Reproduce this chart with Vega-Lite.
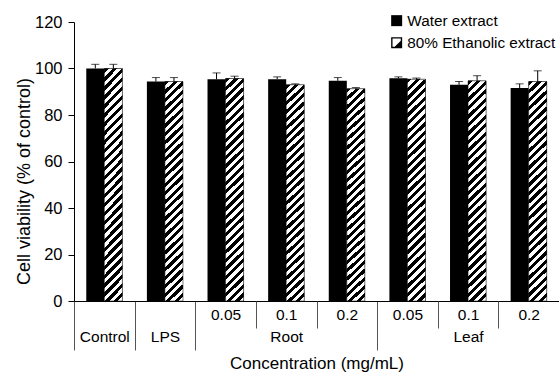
{
  "$schema": "https://vega.github.io/schema/vega-lite/v6.json",
  "width": 485,
  "height": 279,
  "autosize": {"type": "none"},
  "padding": {"left": 74, "top": 22, "right": 0, "bottom": 73},
  "background": "white",
  "config": {
    "view": {"stroke": null},
    "font": "Liberation Sans",
    "axis": {"grid": false, "labelColor": "#000", "titleColor": "#000", "titleFontWeight": "normal"},
    "axisY": {
      "values": [0, 20, 40, 60, 80, 100, 120],
      "tickSize": 6,
      "tickColor": "#000",
      "domainColor": "#000",
      "labelPadding": 6,
      "labelFontSize": 16.5,
      "titleFontSize": 18,
      "titlePadding": 1,
      "titleY": 159
    }
  },
  "data": {
    "values": [
      {"cat": "Control", "extract": "Water extract", "mean": 100, "upper": 101.8},
      {"cat": "Control", "extract": "80% Ethanolic extract", "mean": 100, "upper": 101.8},
      {"cat": "LPS", "extract": "Water extract", "mean": 94.4, "upper": 96.1},
      {"cat": "LPS", "extract": "80% Ethanolic extract", "mean": 94.4, "upper": 96.1},
      {"cat": "Root 0.05", "extract": "Water extract", "mean": 95.4, "upper": 98.1},
      {"cat": "Root 0.05", "extract": "80% Ethanolic extract", "mean": 95.7, "upper": 96.7},
      {"cat": "Root 0.1", "extract": "Water extract", "mean": 95.4, "upper": 96.4},
      {"cat": "Root 0.1", "extract": "80% Ethanolic extract", "mean": 93.0, "upper": 93.4},
      {"cat": "Root 0.2", "extract": "Water extract", "mean": 94.7, "upper": 96.1},
      {"cat": "Root 0.2", "extract": "80% Ethanolic extract", "mean": 91.3, "upper": 91.8},
      {"cat": "Leaf 0.05", "extract": "Water extract", "mean": 95.8, "upper": 96.4},
      {"cat": "Leaf 0.05", "extract": "80% Ethanolic extract", "mean": 95.4, "upper": 95.9},
      {"cat": "Leaf 0.1", "extract": "Water extract", "mean": 93.0, "upper": 94.4},
      {"cat": "Leaf 0.1", "extract": "80% Ethanolic extract", "mean": 94.7, "upper": 96.9},
      {"cat": "Leaf 0.2", "extract": "Water extract", "mean": 91.6, "upper": 93.4},
      {"cat": "Leaf 0.2", "extract": "80% Ethanolic extract", "mean": 94.4, "upper": 99.0}
    ]
  },
  "resolve": {"scale": {"x": "shared", "y": "shared"}, "axis": {"x": "independent", "y": "shared"}},
  "layer": [
    {
      "mark": {"type": "bar"},
      "encoding": {
        "x": {
          "field": "cat", "type": "nominal", "sort": null,
          "scale": {"domain": ["Control", "LPS", "Root 0.05", "Root 0.1", "Root 0.2", "Leaf 0.05", "Leaf 0.1", "Leaf 0.2"], "paddingInner": 0, "paddingOuter": 0},
          "axis": {
            "orient": "bottom",
            "tickBand": "extent",
            "tickSize": 49,
            "tickColor": "#555",
            "tickOpacity": {"condition": {"test": "!datum.value || datum.value == 'Control' || datum.value == 'LPS' || datum.value == 'Root 0.2'", "value": 1}, "value": 0},
            "labelExpr": "datum.value == 'Root 0.1' ? 'Root' : datum.value == 'Leaf 0.1' ? 'Leaf' : (datum.value == 'Control' || datum.value == 'LPS') ? datum.value : ''",
            "labelPadding": -21,
            "labelFontSize": 15.5,
            "labelAngle": 0,
            "domainColor": "#000",
            "title": "Concentration (mg/mL)",
            "titleFontSize": 17,
            "titlePadding": 5
          }
        },
        "xOffset": {"field": "extract", "type": "nominal", "scale": {"domain": ["Water extract", "80% Ethanolic extract"], "paddingInner": 0, "paddingOuter": 0.68}},
        "y": {
          "field": "mean", "type": "quantitative", "stack": null,
          "scale": {"domain": [0, 120], "nice": false},
          "title": "Cell viability (% of control)"
        },
        "fill": {
          "field": "extract", "type": "nominal",
          "scale": {"domain": ["Water extract", "80% Ethanolic extract"], "range": ["#000", "#000"]},
          "legend": {
            "title": null,
            "orient": "none",
            "legendX": 315,
            "legendY": -9,
            "padding": 0,
            "labelFontSize": 15.3,
            "labelColor": "#000",
            "labelOffset": 3,
            "symbolSize": 121,
            "rowPadding": 6,
            "encode": {
              "symbols": {
                "update": {
                  "shape": {"signal": "datum.value == 'Water extract' ? 'square' : 'M-1,-1H1V1H-1Z M-0.75,-0.75V0.75H0.75V-0.75Z M0.75,-0.35V0.75H-0.35Z'"},
                  "fill": {"value": "#000"},
                  "strokeWidth": {"value": 0}
                }
              }
            }
          }
        }
      }
    },
    {
      "transform": [{"filter": "datum.extract == '80% Ethanolic extract'"}],
      "mark": {
        "type": "bar",
        "stroke": "#000",
        "strokeWidth": 0.5,
        "fill": {
          "gradient": "linear", "x1": 0, "y1": 0, "x2": 0.0859, "y2": 1.073,
          "stops": [
            {"offset": 0, "color": "#000"},
            {"offset": 0.0179, "color": "#000"}, {"offset": 0.0179, "color": "#fff"},
            {"offset": 0.0357, "color": "#fff"}, {"offset": 0.0357, "color": "#000"},
            {"offset": 0.0536, "color": "#000"}, {"offset": 0.0536, "color": "#fff"},
            {"offset": 0.0714, "color": "#fff"}, {"offset": 0.0714, "color": "#000"},
            {"offset": 0.0893, "color": "#000"}, {"offset": 0.0893, "color": "#fff"},
            {"offset": 0.1071, "color": "#fff"}, {"offset": 0.1071, "color": "#000"},
            {"offset": 0.125, "color": "#000"}, {"offset": 0.125, "color": "#fff"},
            {"offset": 0.1429, "color": "#fff"}, {"offset": 0.1429, "color": "#000"},
            {"offset": 0.1607, "color": "#000"}, {"offset": 0.1607, "color": "#fff"},
            {"offset": 0.1786, "color": "#fff"}, {"offset": 0.1786, "color": "#000"},
            {"offset": 0.1964, "color": "#000"}, {"offset": 0.1964, "color": "#fff"},
            {"offset": 0.2143, "color": "#fff"}, {"offset": 0.2143, "color": "#000"},
            {"offset": 0.2321, "color": "#000"}, {"offset": 0.2321, "color": "#fff"},
            {"offset": 0.25, "color": "#fff"}, {"offset": 0.25, "color": "#000"},
            {"offset": 0.2679, "color": "#000"}, {"offset": 0.2679, "color": "#fff"},
            {"offset": 0.2857, "color": "#fff"}, {"offset": 0.2857, "color": "#000"},
            {"offset": 0.3036, "color": "#000"}, {"offset": 0.3036, "color": "#fff"},
            {"offset": 0.3214, "color": "#fff"}, {"offset": 0.3214, "color": "#000"},
            {"offset": 0.3393, "color": "#000"}, {"offset": 0.3393, "color": "#fff"},
            {"offset": 0.3571, "color": "#fff"}, {"offset": 0.3571, "color": "#000"},
            {"offset": 0.375, "color": "#000"}, {"offset": 0.375, "color": "#fff"},
            {"offset": 0.3929, "color": "#fff"}, {"offset": 0.3929, "color": "#000"},
            {"offset": 0.4107, "color": "#000"}, {"offset": 0.4107, "color": "#fff"},
            {"offset": 0.4286, "color": "#fff"}, {"offset": 0.4286, "color": "#000"},
            {"offset": 0.4464, "color": "#000"}, {"offset": 0.4464, "color": "#fff"},
            {"offset": 0.4643, "color": "#fff"}, {"offset": 0.4643, "color": "#000"},
            {"offset": 0.4821, "color": "#000"}, {"offset": 0.4821, "color": "#fff"},
            {"offset": 0.5, "color": "#fff"}, {"offset": 0.5, "color": "#000"},
            {"offset": 0.5179, "color": "#000"}, {"offset": 0.5179, "color": "#fff"},
            {"offset": 0.5357, "color": "#fff"}, {"offset": 0.5357, "color": "#000"},
            {"offset": 0.5536, "color": "#000"}, {"offset": 0.5536, "color": "#fff"},
            {"offset": 0.5714, "color": "#fff"}, {"offset": 0.5714, "color": "#000"},
            {"offset": 0.5893, "color": "#000"}, {"offset": 0.5893, "color": "#fff"},
            {"offset": 0.6071, "color": "#fff"}, {"offset": 0.6071, "color": "#000"},
            {"offset": 0.625, "color": "#000"}, {"offset": 0.625, "color": "#fff"},
            {"offset": 0.6429, "color": "#fff"}, {"offset": 0.6429, "color": "#000"},
            {"offset": 0.6607, "color": "#000"}, {"offset": 0.6607, "color": "#fff"},
            {"offset": 0.6786, "color": "#fff"}, {"offset": 0.6786, "color": "#000"},
            {"offset": 0.6964, "color": "#000"}, {"offset": 0.6964, "color": "#fff"},
            {"offset": 0.7143, "color": "#fff"}, {"offset": 0.7143, "color": "#000"},
            {"offset": 0.7321, "color": "#000"}, {"offset": 0.7321, "color": "#fff"},
            {"offset": 0.75, "color": "#fff"}, {"offset": 0.75, "color": "#000"},
            {"offset": 0.7679, "color": "#000"}, {"offset": 0.7679, "color": "#fff"},
            {"offset": 0.7857, "color": "#fff"}, {"offset": 0.7857, "color": "#000"},
            {"offset": 0.8036, "color": "#000"}, {"offset": 0.8036, "color": "#fff"},
            {"offset": 0.8214, "color": "#fff"}, {"offset": 0.8214, "color": "#000"},
            {"offset": 0.8393, "color": "#000"}, {"offset": 0.8393, "color": "#fff"},
            {"offset": 0.8571, "color": "#fff"}, {"offset": 0.8571, "color": "#000"},
            {"offset": 0.875, "color": "#000"}, {"offset": 0.875, "color": "#fff"},
            {"offset": 0.8929, "color": "#fff"}, {"offset": 0.8929, "color": "#000"},
            {"offset": 0.9107, "color": "#000"}, {"offset": 0.9107, "color": "#fff"},
            {"offset": 0.9286, "color": "#fff"}, {"offset": 0.9286, "color": "#000"},
            {"offset": 0.9464, "color": "#000"}, {"offset": 0.9464, "color": "#fff"},
            {"offset": 0.9643, "color": "#fff"}, {"offset": 0.9643, "color": "#000"},
            {"offset": 0.9821, "color": "#000"}, {"offset": 0.9821, "color": "#fff"},
            {"offset": 1, "color": "#fff"}
          ]
        }
      },
      "encoding": {
        "x": {
          "field": "cat", "type": "nominal", "sort": null,
          "scale": {"domain": ["Control", "LPS", "Root 0.05", "Root 0.1", "Root 0.2", "Leaf 0.05", "Leaf 0.1", "Leaf 0.2"], "paddingInner": 0, "paddingOuter": 0},
          "axis": {
            "orient": "bottom",
            "tickBand": "extent",
            "tickSize": 27,
            "tickColor": "#555",
            "tickOpacity": {"condition": {"test": "datum.value == 'Root 0.05' || datum.value == 'Root 0.1' || datum.value == 'Leaf 0.05' || datum.value == 'Leaf 0.1'", "value": 1}, "value": 0},
            "labelExpr": "indexof(datum.value || '', ' ') > 0 ? split(datum.value, ' ')[1] : ''",
            "labelPadding": -21,
            "labelFontSize": 15.5,
            "labelAngle": 0,
            "domain": false,
            "title": null
          }
        },
        "xOffset": {"field": "extract", "type": "nominal", "scale": {"domain": ["Water extract", "80% Ethanolic extract"], "paddingInner": 0, "paddingOuter": 0.68}},
        "y": {"field": "mean", "type": "quantitative", "stack": null, "scale": {"domain": [0, 120], "nice": false}, "title": "Cell viability (% of control)"}
      }
    },
    {
      "mark": {"type": "rule", "color": "#000", "strokeWidth": 1},
      "encoding": {
        "x": {"field": "cat", "type": "nominal", "sort": null, "scale": {"domain": ["Control", "LPS", "Root 0.05", "Root 0.1", "Root 0.2", "Leaf 0.05", "Leaf 0.1", "Leaf 0.2"], "paddingInner": 0, "paddingOuter": 0}, "axis": null},
        "xOffset": {"field": "extract", "type": "nominal", "scale": {"domain": ["Water extract", "80% Ethanolic extract"], "paddingInner": 0, "paddingOuter": 0.68}},
        "y": {"field": "mean", "type": "quantitative", "scale": {"domain": [0, 120], "nice": false}, "title": "Cell viability (% of control)"},
        "y2": {"field": "upper"}
      }
    },
    {
      "mark": {"type": "tick", "color": "#000", "thickness": 1, "size": 8},
      "encoding": {
        "x": {"field": "cat", "type": "nominal", "sort": null, "scale": {"domain": ["Control", "LPS", "Root 0.05", "Root 0.1", "Root 0.2", "Leaf 0.05", "Leaf 0.1", "Leaf 0.2"], "paddingInner": 0, "paddingOuter": 0}, "axis": null},
        "xOffset": {"field": "extract", "type": "nominal", "scale": {"domain": ["Water extract", "80% Ethanolic extract"], "paddingInner": 0, "paddingOuter": 0.68}},
        "y": {"field": "upper", "type": "quantitative", "scale": {"domain": [0, 120], "nice": false}, "title": "Cell viability (% of control)"}
      }
    }
  ]
}
